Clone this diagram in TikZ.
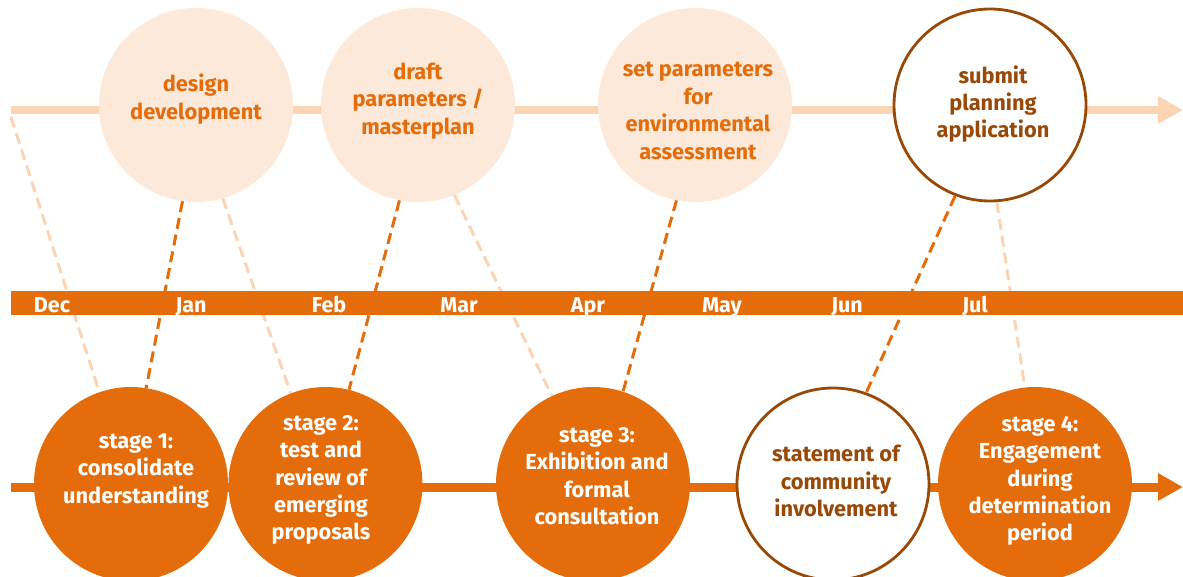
\documentclass[tikz,border=0pt]{standalone}
\usepackage{fontspec}
\setmainfont{Fira Sans}
\usetikzlibrary{arrows.meta}
\definecolor{dorange}{HTML}{E46C0A}
\definecolor{peach}{HTML}{FBD4B4}
\definecolor{lpeach}{HTML}{FDE9D9}
\definecolor{brown}{HTML}{984807}
\tikzset{
  topc/.style={circle,fill=lpeach,minimum size=194pt,inner sep=0pt},
  outc/.style={circle,draw=brown,line width=2.8pt,fill=white,minimum size=192pt,inner sep=0pt},
  botc/.style={circle,fill=dorange,minimum size=194pt,inner sep=0pt},
  txt/.style={align=center,font=\bfseries\fontsize{21.8}{27.4}\selectfont,inner sep=0pt},
  month/.style={text=white,font=\bfseries\fontsize{21.5}{24}\selectfont,inner sep=0pt,anchor=base},
  ldash/.style={draw=peach,line width=3pt,dash pattern=on 11pt off 6pt},
  ddash/.style={draw=dorange,line width=3pt,dash pattern=on 11pt off 6pt},
  tline/.style={draw=peach,line width=8pt,-{Triangle[length=25pt 0 0,width=26pt 0 0]}},
  bline/.style={draw=dorange,line width=9pt,-{Triangle[length=25pt 0 0,width=26pt 0 0]}},
}
\begin{document}
\begin{tikzpicture}[x=1pt,y=-1pt]
\useasboundingbox (0,0) rectangle (1183,577);
% free ends
\coordinate (ts) at (11,110);
\coordinate (te) at (1183,110);
\coordinate (bs) at (11,487);
\coordinate (be) at (1183,487);
\coordinate (ds) at (11,117);
% main lines
\draw[tline] (ts) -- (te);
\draw[bline] (bs) -- (be);
% circles
\node[topc] (c1) at (196,105) {};
\node[topc] (c2) at (418,105) {};
\node[topc] (c3) at (695,105) {};
\node[outc] (c4) at (990,105) {};
\node[botc] (b1) at (131,484) {};
\node[botc] (b2) at (325.5,484) {};
\node[botc] (b3) at (593,484) {};
\node[outc] (b4) at (833,484) {};
\node[botc] (b5) at (1035,484) {};
% dashed connectors
\draw[ldash] (ds) -- (b1.109);
\draw[ddash] (c1.262) -- (b1.81);
\draw[ldash] (c1.286) -- (b2.111);
\draw[ddash] (c2.259) -- (b2.76);
\draw[ldash] (c2.292) -- (b3.115);
\draw[ddash] (c3.259) -- (b3.72);
\draw[ddash] (c4.249) -- (b4.70);
\draw[ldash] (c4.274) -- (b5.96);
% month band
\fill[dorange] (11,291) rectangle (1183,315);
\node[month] (m1) at (52,312.5) {Dec};
\node[month] (m2) at (191,312.5) {Jan};
\node[month] (m3) at (329,312.5) {Feb};
\node[month] (m4) at (459,312.5) {Mar};
\node[month] (m5) at (588,312.5) {Apr};
\node[month] (m6) at (722,312.5) {May};
\node[month] (m7) at (847,312.5) {Jun};
\node[month] (m8) at (975,312.5) {Jul};
% texts
\node[txt,text=dorange] (t1) at (196,99) {design\\development};
\node[txt,text=dorange] (t2) at (418,101) {draft\\parameters /\\masterplan};
\node[txt,text=dorange] (t3) at (698,111) {set parameters\\for\\environmental\\assessment};
\node[txt,text=brown] (t4) at (993,104) {submit\\planning\\application};
\node[txt,text=white] (u1) at (136,471) {stage 1:\\consolidate\\understanding};
\node[txt,text=white] (u2) at (321,480) {stage 2:\\test and\\review of\\emerging\\proposals};
\node[txt,text=white] (u3) at (597,476) {stage 3:\\Exhibition and\\formal\\consultation};
\node[txt,text=brown] (u4) at (836,481) {statement of\\community\\involvement};
\node[txt,text=white] (u5) at (1040,481) {stage 4:\\Engagement\\during\\determination\\period};
\end{tikzpicture}
\end{document}
